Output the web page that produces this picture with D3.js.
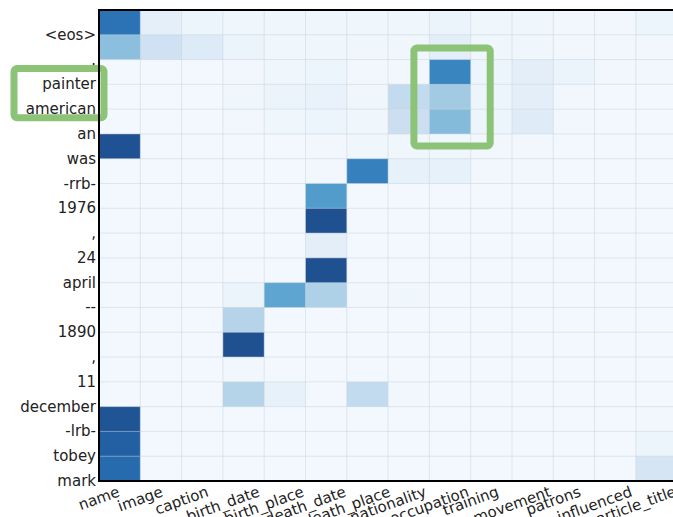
<!DOCTYPE html>
<html>
<head>
<meta charset="utf-8">
<script src="https://cdn.jsdelivr.net/npm/d3@7"></script>
<style>
  html, body { margin: 0; padding: 0; background: #fff; }
  svg { display: block; }
  text { font-family: "DejaVu Sans", sans-serif; fill: #222; }
</style>
</head>
<body>
<svg id="chart" width="673" height="517"></svg>
<script>
// Output tokens (top to bottom) and table fields (left to right)
const tokens = ["<eos>", ".", "painter", "american", "an", "was", "-rrb-", "1976", ",",
  "24", "april", "--", "1890", ",", "11", "december", "-lrb-", "tobey", "mark"];
const fields = ["name", "image", "caption", "birth_date", "birth_place", "death_date",
  "death_place", "nationality", "occupation", "training", "movement", "patrons",
  "influenced", "article_title"];

// Attention weight of each token (row) on each field (column)
const weights = [
  [0.76, 0.09, 0.05, 0.04, 0.04, 0.04, 0.04, 0.04, 0.06, 0.04, 0.04, 0.03, 0.03, 0.05],
  [0.42, 0.20, 0.13, 0.06, 0.04, 0.04, 0.04, 0.04, 0.10, 0.04, 0.04, 0.03, 0.03, 0.03],
  [0.02, 0.02, 0.02, 0.03, 0.04, 0.05, 0.03, 0.03, 0.68, 0.05, 0.10, 0.06, 0.03, 0.03],
  [0.02, 0.02, 0.02, 0.04, 0.06, 0.07, 0.04, 0.25, 0.36, 0.05, 0.10, 0.03, 0.02, 0.02],
  [0.02, 0.02, 0.02, 0.03, 0.04, 0.05, 0.04, 0.22, 0.44, 0.05, 0.12, 0.03, 0.02, 0.02],
  [0.93, 0.02, 0.02, 0.02, 0.02, 0.03, 0.04, 0.04, 0.04, 0.03, 0.03, 0.02, 0.02, 0.02],
  [0.02, 0.02, 0.02, 0.02, 0.02, 0.03, 0.70, 0.08, 0.08, 0.03, 0.03, 0.02, 0.02, 0.02],
  [0.02, 0.02, 0.02, 0.02, 0.02, 0.58, 0.02, 0.02, 0.02, 0.02, 0.02, 0.02, 0.02, 0.02],
  [0.02, 0.02, 0.02, 0.02, 0.02, 0.94, 0.02, 0.02, 0.02, 0.02, 0.02, 0.02, 0.02, 0.02],
  [0.02, 0.02, 0.02, 0.02, 0.02, 0.10, 0.02, 0.02, 0.02, 0.02, 0.02, 0.02, 0.02, 0.02],
  [0.02, 0.02, 0.02, 0.02, 0.02, 0.94, 0.02, 0.02, 0.02, 0.02, 0.02, 0.02, 0.02, 0.02],
  [0.02, 0.02, 0.02, 0.06, 0.54, 0.32, 0.03, 0.04, 0.02, 0.02, 0.02, 0.02, 0.02, 0.02],
  [0.02, 0.02, 0.02, 0.30, 0.02, 0.02, 0.02, 0.02, 0.02, 0.02, 0.02, 0.02, 0.02, 0.02],
  [0.02, 0.02, 0.02, 0.94, 0.02, 0.02, 0.02, 0.02, 0.02, 0.02, 0.02, 0.02, 0.02, 0.02],
  [0.02, 0.02, 0.02, 0.03, 0.02, 0.02, 0.02, 0.02, 0.02, 0.02, 0.02, 0.02, 0.02, 0.02],
  [0.02, 0.02, 0.02, 0.30, 0.08, 0.02, 0.25, 0.03, 0.02, 0.02, 0.02, 0.02, 0.02, 0.02],
  [0.92, 0.02, 0.02, 0.02, 0.02, 0.02, 0.02, 0.02, 0.02, 0.02, 0.02, 0.02, 0.02, 0.03],
  [0.86, 0.02, 0.02, 0.02, 0.02, 0.02, 0.02, 0.02, 0.02, 0.02, 0.02, 0.02, 0.02, 0.05],
  [0.80, 0.02, 0.02, 0.02, 0.02, 0.02, 0.02, 0.02, 0.02, 0.02, 0.02, 0.02, 0.02, 0.17]
];

// Blue ramp used for the cells
const ramp = ["#f7fbff", "#deebf7", "#c6dbef", "#9ecae1", "#6baed6", "#4292c6",
  "#2b74b8", "#1f5ca2", "#1e4580"];

// Highlighted groups: token rows in the label column, and a block of cells
const labelHighlight = ["painter", "american"];
const cellHighlight = { field: "occupation", rows: ["painter", "american", "an"] };

const svg = d3.select("#chart");
const plot = { left: 99, top: 10, right: 99 + 41.3 * fields.length, bottom: 481 };

const x = d3.scaleBand().domain(d3.range(fields.length)).range([plot.left, plot.right]);
const y = d3.scaleBand().domain(d3.range(tokens.length)).range([plot.top, plot.bottom]);
const color = d3.scaleSequential(d3.interpolateRgbBasis(ramp)).domain([0, 1]);

const cells = [];
weights.forEach((row, r) => row.forEach((v, c) => cells.push({ r, c, v })));

svg.append("g").selectAll("rect").data(cells).join("rect")
  .attr("x", d => x(d.c))
  .attr("y", d => y(d.r))
  .attr("width", x.bandwidth() + 0.5)
  .attr("height", y.bandwidth() + 0.5)
  .attr("fill", d => color(d.v));

// Light grid along cell edges
const grid = svg.append("g").attr("stroke", "#c9d3de").attr("stroke-opacity", 0.5).attr("stroke-width", 1);
d3.range(1, fields.length).forEach(c => {
  grid.append("line").attr("x1", x(c)).attr("x2", x(c)).attr("y1", plot.top).attr("y2", plot.bottom);
});
d3.range(1, tokens.length).forEach(r => {
  grid.append("line").attr("x1", plot.left).attr("x2", plot.right).attr("y1", y(r)).attr("y2", y(r));
});

// Row labels sit at the lower edge of each row
svg.append("g").selectAll("text").data(tokens).join("text")
  .attr("x", plot.left - 3)
  .attr("y", (d, i) => y(i) + y.bandwidth())
  .attr("text-anchor", "end")
  .attr("dominant-baseline", "central")
  .attr("font-size", 15)
  .text(d => d);

// Column labels, tilted, centred on the left edge of each column
const angle = 20 * Math.PI / 180;
const xl = svg.append("g");
fields.forEach((f, i) => {
  const t = xl.append("text")
    .attr("text-anchor", "middle")
    .attr("dominant-baseline", "central")
    .attr("font-size", 15)
    .text(f);
  const w = t.node().getComputedTextLength();
  const h = 15;
  const boxH = w * Math.sin(angle) + h * Math.cos(angle);
  const cy = plot.bottom + 3 + boxH / 2;
  t.attr("transform", `translate(${x(i)},${cy}) rotate(-20)`);
});

// Green highlight frames
const green = "#8cc376";
const lr0 = tokens.indexOf(labelHighlight[0]);
const lr1 = tokens.indexOf(labelHighlight[labelHighlight.length - 1]);
svg.append("rect")
  .attr("x", 14).attr("y", y(lr0) + 9)
  .attr("width", 90).attr("height", y(lr1) + y.bandwidth() - y(lr0) + 4.5 - 9 + 4)
  .attr("rx", 3)
  .attr("fill", "none").attr("stroke", green).attr("stroke-width", 7);

const fc = fields.indexOf(cellHighlight.field);
const cr0 = tokens.indexOf(cellHighlight.rows[0]);
const cr1 = tokens.indexOf(cellHighlight.rows[cellHighlight.rows.length - 1]);
svg.append("rect")
  .attr("x", x(fc) - 15.5).attr("y", y(cr0) - 11.5)
  .attr("width", x.bandwidth() + 35).attr("height", y(cr1) + y.bandwidth() + 12 - (y(cr0) - 11.5))
  .attr("rx", 3)
  .attr("fill", "none").attr("stroke", green).attr("stroke-width", 7);

// Frame of the plot area
const frame = svg.append("g").attr("stroke", "#000").attr("stroke-width", 2);
frame.append("line").attr("x1", plot.left).attr("x2", plot.left).attr("y1", plot.top - 1).attr("y2", plot.bottom + 1);
frame.append("line").attr("x1", plot.left).attr("x2", plot.right).attr("y1", plot.top).attr("y2", plot.top);
frame.append("line").attr("x1", plot.left).attr("x2", plot.right).attr("y1", plot.bottom).attr("y2", plot.bottom);
frame.append("line").attr("x1", plot.right).attr("x2", plot.right).attr("y1", plot.top).attr("y2", plot.bottom);
</script>
</body>
</html>
